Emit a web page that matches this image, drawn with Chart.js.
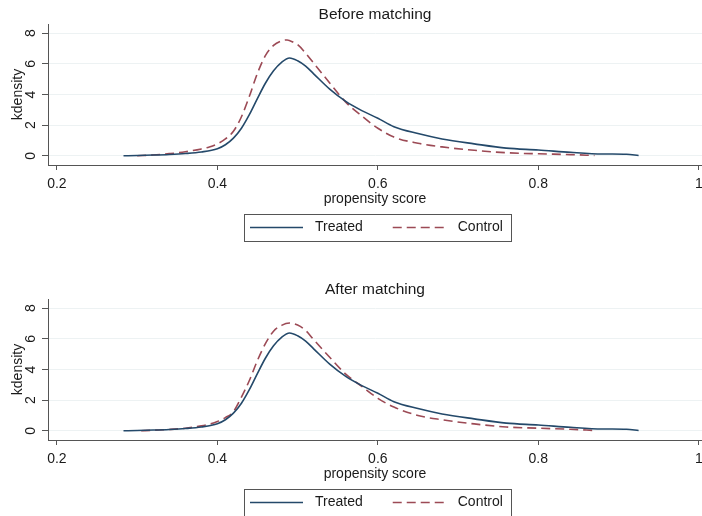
<!DOCTYPE html>
<html><head><meta charset="utf-8">
<script src="https://cdn.jsdelivr.net/npm/chart.js@4"></script>
<style>
html,body{margin:0;padding:0;background:#fff;overflow:hidden;width:702px;height:516px}
canvas{position:absolute;left:0;display:block}
#c1{top:0}#c2{top:275px}
</style></head>
<body>
<canvas id="c1" width="702" height="275"></canvas>
<canvas id="c2" width="702" height="275"></canvas>
<script>
// ---- data ----
const panelTitles = ['Before matching', 'After matching'];
const seriesLabels = ['Treated', 'Control'];
const xAxisTitle = 'propensity score';
const yAxisTitle = 'kdensity';
const xTickValues = [0.2, 0.4, 0.6, 0.8, 1];
const yTickValues = [0, 2, 4, 6, 8];

const treatedScore   = [0.283,0.30,0.32,0.34,0.36,0.38,0.40,0.41,0.42,0.43,0.44,0.45,0.46,0.47,0.48,0.49,0.50,0.51,0.52,0.54,0.56,0.58,0.60,0.62,0.65,0.68,0.72,0.76,0.80,0.84,0.88,0.91,0.925];
const treatedDensity = [0.0,0.02,0.05,0.09,0.15,0.25,0.46,0.72,1.15,1.80,2.70,3.75,4.75,5.55,6.10,6.38,6.20,5.85,5.35,4.35,3.55,2.95,2.45,1.90,1.45,1.10,0.78,0.50,0.38,0.23,0.12,0.10,0.02];

const controlBeforeScore   = [0.30,0.32,0.34,0.36,0.38,0.39,0.40,0.41,0.42,0.43,0.44,0.45,0.46,0.47,0.48,0.487,0.495,0.50,0.51,0.52,0.54,0.56,0.58,0.60,0.62,0.65,0.68,0.72,0.76,0.80,0.84,0.87];
const controlBeforeDensity = [0.0,0.05,0.14,0.26,0.45,0.58,0.78,1.10,1.60,2.55,3.90,5.40,6.55,7.20,7.50,7.56,7.40,7.25,6.70,6.05,4.75,3.50,2.60,1.80,1.22,0.82,0.58,0.36,0.20,0.13,0.08,0.02];

const controlAfterScore   = [0.305,0.32,0.34,0.36,0.38,0.39,0.40,0.41,0.42,0.43,0.44,0.45,0.46,0.47,0.48,0.49,0.50,0.51,0.52,0.54,0.56,0.58,0.60,0.62,0.65,0.68,0.72,0.76,0.80,0.84,0.87];
const controlAfterDensity = [0.0,0.04,0.09,0.17,0.32,0.43,0.60,0.86,1.25,2.20,3.30,4.60,5.70,6.50,6.88,7.03,6.90,6.55,5.95,4.80,3.70,2.90,2.12,1.55,1.00,0.72,0.45,0.25,0.17,0.10,0.02];

// ---- styling ----
const FONT = '"Liberation Sans", Arial, Helvetica, sans-serif';
const TEXT = '#1a1a1a';
const AXIS = '#555555';
const GRID = '#edf2f3';
const TREATED_COLOR = '#24496a';
const CONTROL_COLOR = '#9c4a55';

Chart.defaults.font.family = FONT;
Chart.defaults.font.size = 14;
Chart.defaults.color = TEXT;

const pts = (xs, ys) => xs.map((x, i) => ({x: x, y: ys[i]}));

const boxLegend = {
  id: 'boxLegend',
  afterDraw(chart) {
    const {ctx, chartArea} = chart;
    const ds = chart.data.datasets;
    ctx.save();
    ctx.font = '14px ' + FONT;
    const lineLen = 53, gapText = 12, gapItem = 30, padL = 6, padR = 8;
    const widths = ds.map(d => ctx.measureText(d.label).width);
    let total = padL + padR + gapItem * (ds.length - 1);
    widths.forEach(w => { total += lineLen + gapText + w; });
    const cx = (chartArea.left + chartArea.right) / 2 + 2;
    const left = Math.round(cx - total / 2);
    const top = Math.round(chartArea.bottom + 49);
    const h = 27;
    const cy = top + h / 2;
    ctx.strokeStyle = AXIS;
    ctx.lineWidth = 1;
    ctx.setLineDash([]);
    ctx.strokeRect(left + 0.5, top + 0.5, Math.round(total), h);
    let x = left + padL;
    ds.forEach((d, i) => {
      ctx.beginPath();
      ctx.strokeStyle = d.borderColor;
      ctx.lineWidth = d.borderWidth;
      ctx.setLineDash(d.borderDash || []);
      ctx.moveTo(x, cy);
      ctx.lineTo(x + lineLen, cy);
      ctx.stroke();
      ctx.setLineDash([]);
      x += lineLen + gapText;
      ctx.fillStyle = TEXT;
      ctx.textBaseline = 'middle';
      ctx.textAlign = 'left';
      ctx.fillText(d.label, x, cy);
      x += widths[i] + gapItem;
    });
    ctx.restore();
  }
};

function makeChart(id, title, controlScore, controlDensity) {
  return new Chart(document.getElementById(id), {
    type: 'line',
    data: {
      datasets: [
        {label: seriesLabels[0], data: pts(treatedScore, treatedDensity), borderColor: TREATED_COLOR,
         borderWidth: 1.6, pointRadius: 0, fill: false, cubicInterpolationMode: 'monotone'},
        {label: seriesLabels[1], data: pts(controlScore, controlDensity), borderColor: CONTROL_COLOR,
         borderWidth: 1.6, borderDash: [9, 5], pointRadius: 0, fill: false, cubicInterpolationMode: 'monotone'}
      ]
    },
    options: {
      responsive: false,
      animation: false,
      devicePixelRatio: 1,
      events: [],
      layout: {padding: {top: 0, left: 0, right: 0, bottom: 68.7}},
      plugins: {
        legend: {display: false},
        tooltip: {enabled: false},
        title: {display: true, text: title, fullSize: false, color: TEXT,
                font: {size: 15.5, weight: 'normal', family: FONT, lineHeight: 1.2}, padding: {top: 5.4, bottom: 0}}
      },
      scales: {
        x: {
          type: 'linear', min: 0.1889, max: 1.004,
          afterBuildTicks: s => { s.ticks = xTickValues.map(v => ({value: v})); },
          afterFit: s => { s.paddingLeft = 0; s.paddingRight = 0; s.height = 41.3; },
          grid: {drawOnChartArea: false, drawTicks: true, tickLength: 5, tickColor: AXIS, tickWidth: 1},
          border: {display: true, color: AXIS, width: 1},
          ticks: {color: TEXT, padding: 5.5, maxRotation: 0, minRotation: 0, font: {size: 14},
                  callback: v => String(v)},
          title: {display: true, text: xAxisTitle, color: TEXT, font: {size: 14, lineHeight: 1.0}, padding: {top: 0, bottom: 0}}
        },
        y: {
          type: 'linear', min: -0.6, max: 8.6,
          afterBuildTicks: s => { s.ticks = yTickValues.map(v => ({value: v})); },
          afterFit: s => { s.width = 48; s.paddingTop = 0; s.paddingBottom = 0; },
          grid: {drawOnChartArea: true, color: GRID, lineWidth: 1, drawTicks: true, tickLength: 6, tickColor: AXIS, tickWidth: 1},
          border: {display: true, color: AXIS, width: 1},
          ticks: {color: TEXT, padding: 6.5, minRotation: 90, maxRotation: 90, crossAlign: 'center', font: {size: 14},
                  callback: v => String(v)},
          title: {display: true, text: yAxisTitle, color: TEXT, font: {size: 14}, padding: {top: 9.5, bottom: 0}}
        }
      }
    },
    plugins: [boxLegend]
  });
}

makeChart('c1', panelTitles[0], controlBeforeScore, controlBeforeDensity);
makeChart('c2', panelTitles[1], controlAfterScore, controlAfterDensity);
</script>
</body></html>
